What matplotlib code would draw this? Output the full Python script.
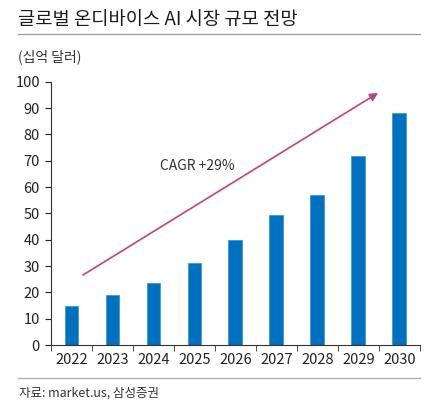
import matplotlib.pyplot as plt
from matplotlib.lines import Line2D

plt.rcParams['font.family'] = ['Noto Sans CJK KR', 'DejaVu Sans']

years = ['2022', '2023', '2024', '2025', '2026', '2027', '2028', '2029', '2030']
market = [15, 19, 23.5, 31, 40, 49.3, 57, 72, 88]

fig = plt.figure(figsize=(4.3, 4.08), dpi=100)
ax = fig.add_axes([0.1186, 0.1544, 0.858, 0.645])

x = list(range(len(years)))
ax.bar(x, market, width=0.34, color='#0070C0', edgecolor='#3d9ad6', linewidth=0.6)

ax.set_xlim(-0.5, len(years) - 0.5)
ax.set_ylim(0, 100)
ax.set_yticks(range(0, 101, 10))
ax.set_xticks(x)
ax.set_xticklabels(years)
ax.set_xticks([i - 0.5 for i in range(len(years) + 1)], minor=True)
ax.tick_params(axis='x', which='major', length=0, pad=6, labelsize=10.5, colors='#222222')
ax.tick_params(axis='x', which='minor', length=4, direction='out', color='#333333')
ax.tick_params(axis='y', length=4, direction='out', labelsize=10.5, colors='#222222', pad=4)
for s in ['top', 'right']:
    ax.spines[s].set_visible(False)
for s in ['left', 'bottom']:
    ax.spines[s].set_color('#333333')
    ax.spines[s].set_linewidth(0.8)

# CAGR arrow
ax.annotate('', xy=(7.48, 95.8), xytext=(0.28, 26.6),
            arrowprops=dict(arrowstyle='-|>', color='#C0427F', lw=1.2,
                            mutation_scale=12, shrinkA=0, shrinkB=0))
ax.text(3.06, 68, 'CAGR +29%', ha='center', va='center', fontsize=10, color='#333333')

# header and footer
fig.text(0.042, 0.952, '글로벌 온디바이스 AI 시장 규모 전망', fontsize=13.5,
         fontweight='medium', color='#1a1a1a', ha='left', va='center')
fig.add_artist(Line2D([0.042, 0.977], [0.916, 0.916], color='#999999', lw=0.9))
fig.text(0.042, 0.86, '(십억 달러)', fontsize=10, color='#333333', ha='left', va='center')
fig.add_artist(Line2D([0.042, 0.977], [0.074, 0.074], color='#aaaaaa', lw=0.9))
fig.text(0.045, 0.037, '자료: market.us, 삼성증권', fontsize=9, color='#333333',
         ha='left', va='center')

fig.savefig('out.png', dpi=100)
